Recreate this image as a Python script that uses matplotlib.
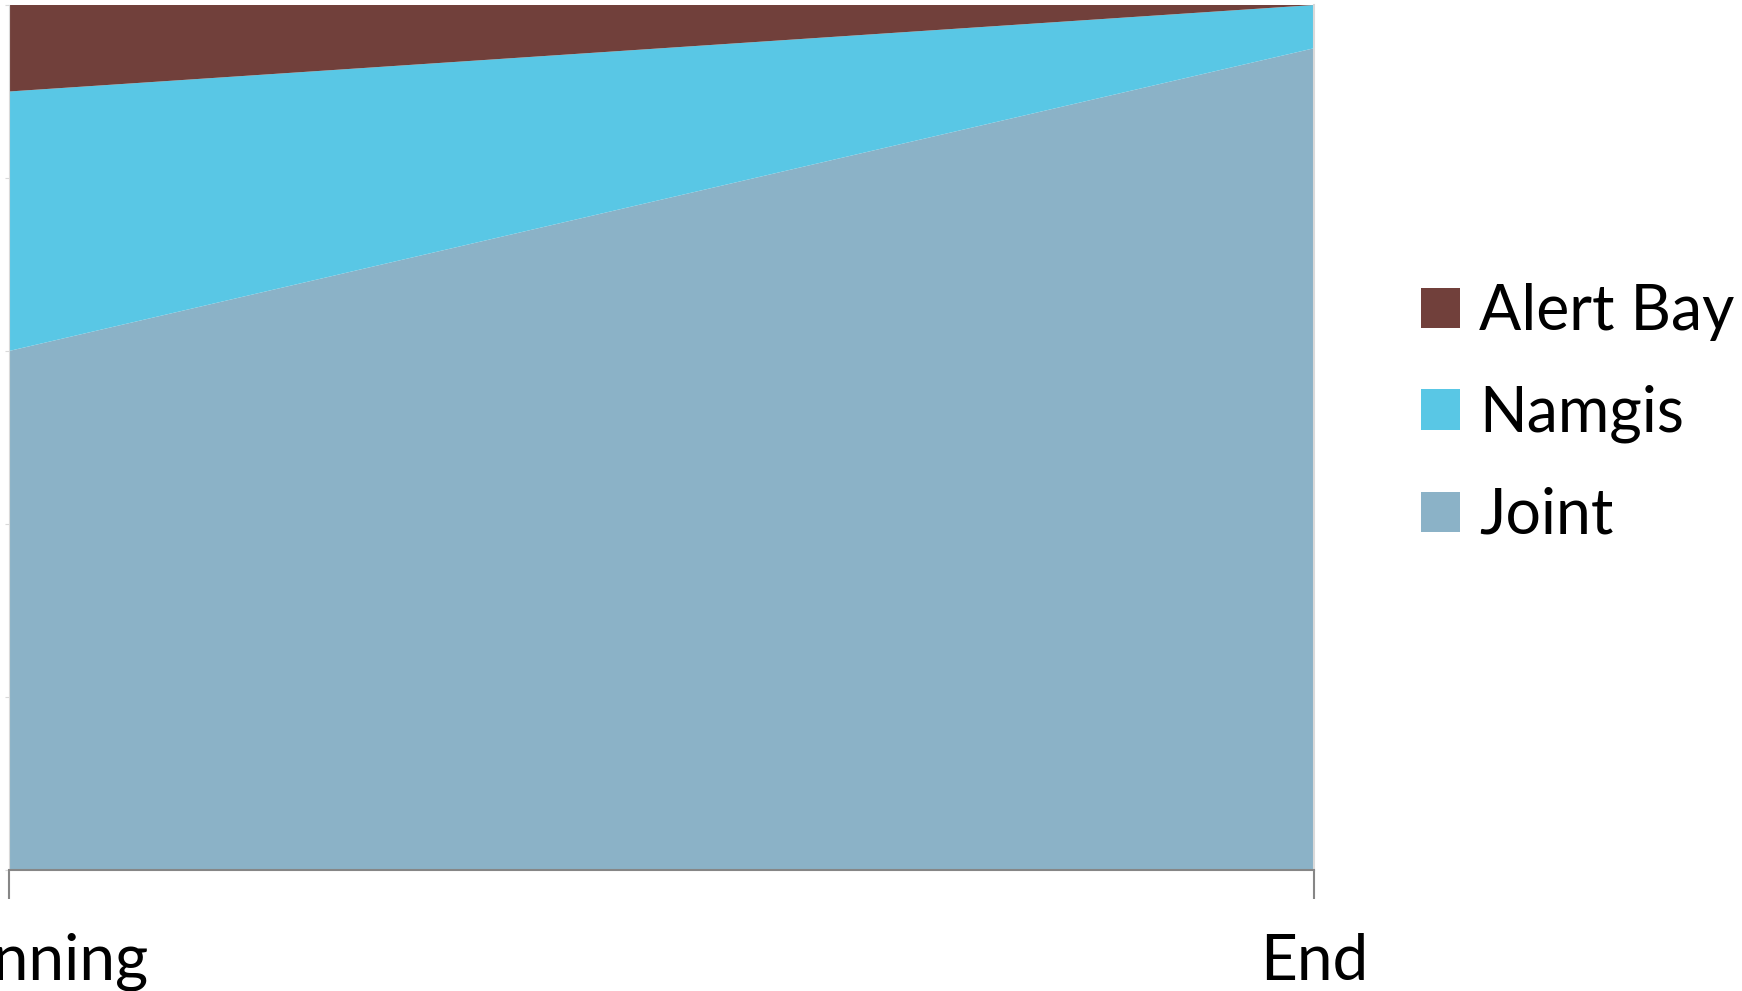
import matplotlib.pyplot as plt
from matplotlib.patches import Patch

# shares at the two time points (percent of total)
periods = ['Beginning', 'End']
joint = [60, 95]
namgis = [30, 5]
alert_bay = [10, 0]

series_names = ['Joint', 'Namgis', 'Alert Bay']
colors = ['#8BB2C7', '#59C7E5', '#71403B']

plt.rcParams['font.family'] = ['Lato', 'DejaVu Sans']

fig = plt.figure(figsize=(17.42, 9.91), dpi=100)
ax = fig.add_axes([9 / 1742, 1 - 870 / 991, (1314 - 9) / 1742, 865 / 991])

x = list(range(len(periods)))
ax.stackplot(x, joint, namgis, alert_bay, colors=colors, linewidth=0)

ax.set_xlim(0, 1)
ax.set_ylim(0, 100)
ax.set_xticks(x)
ax.set_xticklabels(periods, fontsize=46)
ax.tick_params(axis='x', length=21, width=1.5, color='#868686', pad=24)
ax.set_yticks([0, 20, 40, 60, 80, 100])
ax.set_yticklabels([])
ax.tick_params(axis='y', length=3, color='#d9d9d9', direction='out')

ax.spines['top'].set_visible(False)
ax.spines['bottom'].set_color('#868686')
ax.spines['bottom'].set_linewidth(1.5)
ax.spines['left'].set_color('#d9d9d9')
ax.spines['right'].set_color('#d9d9d9')
ax.spines['right'].set_linewidth(1.5)

handles = [Patch(facecolor=c) for c in colors[::-1]]
fig.legend(handles, series_names[::-1], loc='upper left',
           bbox_to_anchor=(1421 / 1742, 1 - 283 / 991), frameon=False,
           fontsize=45, handlelength=0.627, handleheight=0.627,
           handletextpad=0.3, labelspacing=0.70, borderpad=0, borderaxespad=0)

fig.savefig('out.png', dpi=100)
